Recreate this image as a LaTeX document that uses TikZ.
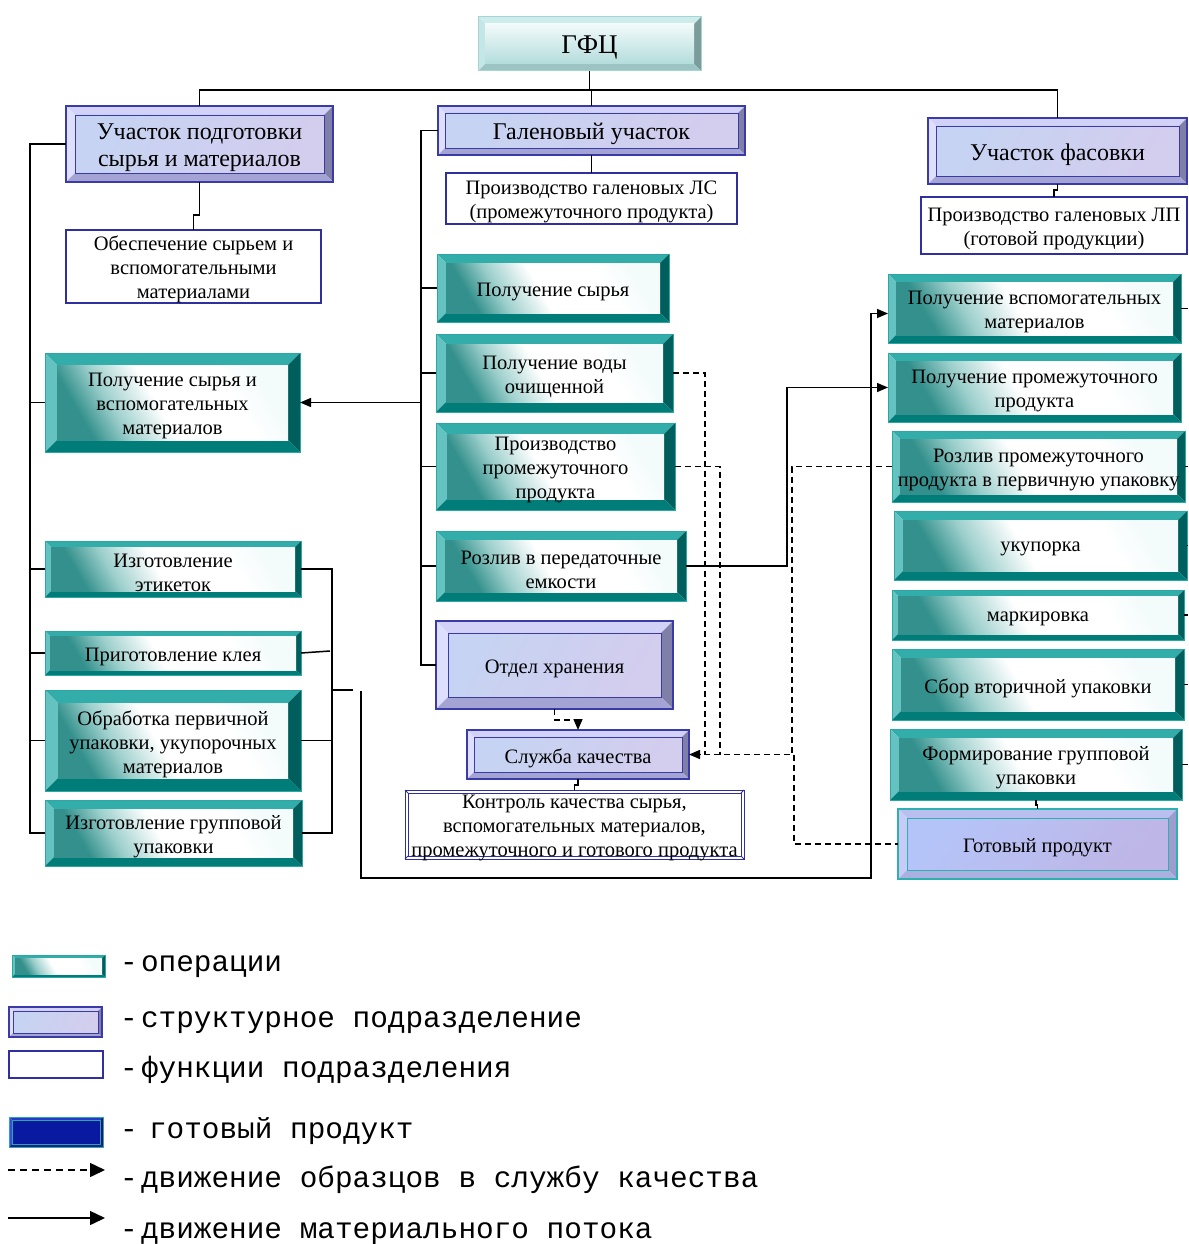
\documentclass[tikz,border=0pt]{standalone}
\usepackage{fontspec}
\setmainfont{Liberation Serif}
\newfontfamily\legfont{Liberation Mono}
\usetikzlibrary{arrows.meta,calc}

% operation boxes (teal bevel)
\definecolor{optop}{HTML}{32ADA9}
\definecolor{opleft}{HTML}{64C3C0}
\definecolor{opright}{HTML}{005F5D}
\definecolor{opbot}{HTML}{007C79}
\definecolor{opdk}{HTML}{33908C}
\definecolor{opmd}{HTML}{9CCFCC}
\definecolor{oplt}{HTML}{F4FBFB}
\definecolor{opln}{HTML}{2BA8A5}
% structural units (lavender bevel)
\definecolor{sttop}{HTML}{D2D2F8}
\definecolor{stleft}{HTML}{DEDEFD}
\definecolor{stright}{HTML}{7F7FA8}
\definecolor{stbot}{HTML}{A3A3D4}
\definecolor{stA}{HTML}{C6D3F2}
\definecolor{stB}{HTML}{D3CDEE}
\definecolor{stln}{HTML}{3A3AA8}
% ready product
\definecolor{gptop}{HTML}{B9C0F0}
\definecolor{gpleft}{HTML}{C6CCF6}
\definecolor{gpright}{HTML}{9C9CCF}
\definecolor{gpbot}{HTML}{AAB0E0}
\definecolor{gpA}{HTML}{B5C4F8}
\definecolor{gpB}{HTML}{BEB6E6}
\definecolor{gpln}{HTML}{2FB0B0}
% top box
\definecolor{gftop}{HTML}{CDECEC}
\definecolor{gfleft}{HTML}{C5E6E6}
\definecolor{gfright}{HTML}{7C9C9C}
\definecolor{gfbot}{HTML}{9CC4C4}
\definecolor{gfA}{HTML}{F2FAFA}
\definecolor{gfB}{HTML}{B4DCDC}
\definecolor{gfln}{HTML}{A6D3D3}
% legend dark blue
\definecolor{gdtop}{HTML}{2838C8}
\definecolor{gdleft}{HTML}{3A4AE0}
\definecolor{gdright}{HTML}{0A1480}
\definecolor{gdbot}{HTML}{101C90}
\definecolor{gdA}{HTML}{0A1AA0}
\definecolor{gdB}{HTML}{2C50F0}
% function boxes
\definecolor{fnln}{HTML}{2F2FA0}

\pgfdeclarehorizontalshading{opsh}{100bp}{color(0bp)=(opdk); color(25bp)=(opdk); color(34bp)=(opmd); color(46bp)=(white); color(66bp)=(white); color(75bp)=(oplt); color(100bp)=(oplt)}

% #1 style prefix, #2 name, #3-#6 corners, #7 bevel width, #8 text options, #9 text
\newcommand\bevbox[9]{%
  \path[fill=#1top] (#3,#4) -- (#5,#4) -- ({#5-#7},{#4+#7}) -- ({#3+#7},{#4+#7}) -- cycle;
  \path[fill=#1left] (#3,#4) -- ({#3+#7},{#4+#7}) -- ({#3+#7},{#6-#7}) -- (#3,#6) -- cycle;
  \path[fill=#1right] (#5,#4) -- (#5,#6) -- ({#5-#7},{#6-#7}) -- ({#5-#7},{#4+#7}) -- cycle;
  \path[fill=#1bot] (#3,#6) -- (#5,#6) -- ({#5-#7},{#6-#7}) -- ({#3+#7},{#6-#7}) -- cycle;
  \path[#1face] ({#3+#7},{#4+#7}) rectangle ({#5-#7},{#6-#7});
  \path[#1inner] ({#3+#7},{#4+#7}) rectangle ({#5-#7},{#6-#7});
  \path[#1line] (#3,#4) rectangle (#5,#6);
  \node[boxgeom,minimum width={#5-#3},minimum height={#6-#4}] (#2) at ({(#3+#5)/2},{(#4+#6)/2}) {};
  \node[boxtext,#8] (#2t) at ($(#2.center)+(0,3.5)$) {#9};
}

\tikzset{
  boxgeom/.style={inner sep=0pt, outer sep=0pt},
  boxtext/.style={inner sep=0pt, outer sep=0pt, align=center, font=\fontsize{20.5}{24}\selectfont},
  hdr/.style={font=\fontsize{24}{27}\selectfont},
  opface/.style={shade, shading=opsh, shading angle=30},
  opinner/.style={},
  opline/.style={draw=opln, line width=1pt},
  stface/.style={left color=stA, right color=stB, shading angle=60},
  stinner/.style={draw=stln, line width=0.8pt},
  stline/.style={draw=stln, line width=1.2pt},
  gpface/.style={left color=gpA, right color=gpB, shading angle=50},
  gpinner/.style={draw=gpln, line width=0.8pt},
  gpline/.style={draw=gpln, line width=1.2pt},
  gfface/.style={top color=gfA, bottom color=gfB},
  gfinner/.style={},
  gfline/.style={draw=gfln, line width=1pt},
  gdface/.style={left color=gdA, middle color=gdB, right color=gdA, shading angle=45},
  gdinner/.style={draw=opln, line width=0.6pt},
  gdline/.style={draw=opln, line width=1pt},
  fnbox/.style={boxgeom, draw=fnln, line width=1.6pt, fill=white},
  kin/.style={draw=fnln, line width=0.9pt},
  conn/.style={draw=black, line width=1.5pt},
  dsh/.style={conn, dash pattern=on 6pt off 4pt},
  legtxt/.style={inner sep=0pt, outer sep=0pt, font=\legfont\fontsize{29.4}{32}\selectfont},
  >={Triangle[length=11pt,width=9pt]},
}

\begin{document}
\begin{tikzpicture}[x=1pt,y=-1pt]
\fill[white] (0,0) rectangle (1188,1244);
\useasboundingbox (0,0) rectangle (1188,1244);

% ---------- top level ----------
\bevbox{gf}{gfc}{478}{17}{701}{71}{7}{font=\fontsize{27}{30}\selectfont}{ГФЦ}
\bevbox{st}{ucp}{66}{106}{333}{182}{9}{hdr}{Участок подготовки\\сырья и материалов}
\bevbox{st}{gal}{438}{106}{745}{155}{7}{hdr}{Галеновый участок}
\bevbox{st}{uf}{928}{118}{1187}{184}{8}{hdr}{Участок фасовки}

% ---------- function boxes ----------
\node[fnbox, minimum width=255, minimum height=73] (obesp) at (193.5,266.5) {};
\node[boxtext] (obespt) at ($(obesp.center)+(0,3)$) {Обеспечение сырьем и\\вспомогательными\\материалами};
\node[fnbox, minimum width=291, minimum height=51] (pls) at (591.5,198.5) {};
\node[boxtext] (plst) at ($(pls.center)+(0,3)$) {Производство галеновых ЛС\\(промежуточного продукта)};
\node[fnbox, minimum width=266, minimum height=57] (plp) at (1054,225.5) {};
\node[boxtext] (plpt) at ($(plp.center)+(0,3)$) {Производство галеновых ЛП\\(готовой продукции)};

% ---------- central column ----------
\bevbox{op}{polsyr}{437}{254}{669}{322}{9}{}{Получение сырья}
\bevbox{op}{vody}{436}{334}{673}{412}{10}{}{Получение воды\\очищенной}
\bevbox{op}{proizv}{436}{423}{675}{510}{11}{}{Производство\\промежуточного\\продукта}
\bevbox{op}{rozliv}{436}{531}{686}{601}{9}{}{Розлив в передаточные\\емкости}
\bevbox{st}{otd}{436}{621}{673}{709}{12}{}{Отдел хранения}
\bevbox{st}{sk}{467}{730}{689}{779}{7}{}{Служба качества}
\node[fnbox, line width=0.9pt, minimum width=339, minimum height=69] (kontrol) at (574.5,824.5) {};
\draw[kin] ($(kontrol.north west)+(3,3)$) rectangle ($(kontrol.south east)+(-3,-3)$);
\draw[kin] (kontrol.north west) -- ++(3,3);
\draw[kin] (kontrol.north east) -- ++(-3,3);
\draw[kin] (kontrol.south west) -- ++(3,-3);
\draw[kin] (kontrol.south east) -- ++(-3,-3);
\node[boxtext] (kontrolt) at ($(kontrol.center)+(0,3.5)$) {Контроль качества сырья,\\вспомогательных материалов,\\промежуточного и готового продукта};

% ---------- left column ----------
\bevbox{op}{psv}{45}{353}{300}{452}{12}{}{Получение сырья и\\вспомогательных\\материалов}
\bevbox{op}{etik}{45}{541}{301}{597}{6}{}{Изготовление\\этикеток}
\bevbox{op}{klei}{45}{631}{301}{675}{5}{}{Приготовление клея}
\bevbox{op}{obr}{45}{690}{301}{791}{13}{}{Обработка первичной\\упаковки, укупорочных\\материалов}
\bevbox{op}{izgr}{45}{800}{302}{866}{9}{}{Изготовление групповой\\упаковки}

% ---------- right column ----------
\bevbox{op}{pvm}{888}{274}{1181}{343}{8}{}{Получение вспомогательных\\материалов}
\bevbox{op}{ppp}{888}{353}{1181}{422}{8}{}{Получение промежуточного\\продукта}
\bevbox{op}{rpu}{892}{431}{1185}{502}{8}{}{Розлив промежуточного\\продукта в первичную упаковку}
\bevbox{op}{ukup}{894}{511}{1187}{580}{9}{}{укупорка}
\bevbox{op}{mark}{892}{590}{1184}{640}{6}{}{маркировка}
\bevbox{op}{sbor}{892}{649}{1184}{720}{9}{}{Сбор вторичной упаковки}
\bevbox{op}{fgu}{890}{729}{1182}{800}{9}{}{Формирование групповой\\упаковки}
\bevbox{gp}{gp}{898}{809}{1177}{879}{9}{}{Готовый продукт}

% ---------- connectors: hierarchy ----------
\coordinate (tj) at (591,90);
\draw[conn] (gfc.south) -- (gfc.south |- tj);
\draw[conn] (ucp.north) |- (uf.north |- tj) -- (uf.north);
\draw[conn] (gal.north |- tj) -- (gal.north);
\draw[conn] (gal.south) -- (pls.north);
\draw[conn] (ucp.south) -- ++(0,33) -| (obesp.north);
\draw[conn] (uf.south) -- ++(0,6) -| (plp.north);
\draw[conn] (sk.south) -- ++(0,6) -| (kontrol.north);
\draw[conn] (fgu.south) -- ++(0,5) -| (gp.north);

% left trunk
\coordinate (ltr) at (30,143);
\draw[conn] (ucp.west) -- (ucp.west -| ltr) -- (ltr |- izgr.west) -- (izgr.west);
\foreach \n in {psv,etik,klei,obr} \draw[conn] (ltr |- \n.west) -- (\n.west);

% galenic trunk
\coordinate (gtr) at (421,130);
\draw[conn] (gal.west) -- (gal.west -| gtr) -- (gtr |- otd.west) -- (otd.west);
\foreach \n in {polsyr,vody,proizv,rozliv} \draw[conn] (gtr |- \n.west) -- (\n.west);
\draw[conn,->] (gtr |- psv.east) -- (psv.east);

% right bracket of the left column
\coordinate (rbr) at (332,569);
\draw[conn] (etik.east) -- (etik.east -| rbr) -- (rbr |- izgr.east) -- (izgr.east);
\draw[conn] (klei.east) -- ($(klei.east -| rbr)+(-2,-2)$);
\draw[conn] (obr.east) -- (obr.east -| rbr);
\coordinate (rbo) at (353,690);
\draw[conn] (rbo -| rbr) -- (rbo);
\coordinate (mfs) at (361,691);
\coordinate (mfb) at (871,878);
\coordinate (pvmin) at ($(pvm.west)+(0,5)$);
\draw[conn,->] (mfs) |- (mfb) -- (mfb |- pvmin) -- (pvmin);

% filling to packaging
\coordinate (rj) at (787,566);
\draw[conn,->] (rozliv.east) -- (rozliv.east -| rj) |- (ppp.west);

% samples to quality service
\coordinate (d1) at (705,373);
\coordinate (d2) at (720,466);
\coordinate (d3) at (792,466);
\draw[dsh] (vody.east) -- (vody.east -| d1) -- (d1 |- sk.east);
\draw[dsh] (proizv.east) -- (proizv.east -| d2) -- (d2 |- sk.east);
\draw[dsh,->] (rpu.west) -- (rpu.west -| d3) -- (d3 |- sk.east) -- (sk.east);
\draw[dsh,line width=1.2pt] ($(d3 |- sk.east)+(2,0)$) |- (gp.west);
\draw[dsh,->] (otd.south) -- ++(0,11) -| (sk.north);

% stubs at the right edge
\coordinate (redge) at (1188,0);
\foreach \n in {pvm,rpu,ukup,mark,sbor,fgu} \draw[conn,line width=1.2pt] (\n.east) -- (\n.east -| redge);

% ---------- legend ----------
\bevbox{op}{lgop}{12}{955}{105}{977}{3}{}{}
\bevbox{st}{lgst}{9}{1007}{102}{1037}{4}{}{}
\node[fnbox, minimum width=94, minimum height=27] (lgfn) at (56,1064.5) {};
\bevbox{gd}{lggd}{9}{1117}{103}{1147}{3}{}{}
\coordinate (la1) at (8,1170);
\coordinate (la2) at (105,1170);
\draw[conn, dash pattern=on 7pt off 5pt, -{Triangle[length=15pt,width=14pt]}] (la1) -- (la2);
\coordinate (lb1) at (8,1218);
\coordinate (lb2) at (105,1218);
\draw[conn, -{Triangle[length=15pt,width=14pt]}] (lb1) -- (lb2);

\node[legtxt, anchor=base] (lh1) at (129,971) {-};
\node[legtxt, anchor=base west] (lt1) at (141,971) {операции};
\node[legtxt, anchor=base] (lh2) at (129,1027) {-};
\node[legtxt, anchor=base west] (lt2) at (141,1027) {структурное подразделение};
\node[legtxt, anchor=base] (lh3) at (129,1077) {-};
\node[legtxt, anchor=base west] (lt3) at (141,1077) {функции подразделения};
\node[legtxt, anchor=base] (lh4) at (129,1138) {-};
\node[legtxt, anchor=base west] (lt4) at (149,1138) {готовый продукт};
\node[legtxt, anchor=base] (lh5) at (129,1187) {-};
\node[legtxt, anchor=base west] (lt5) at (141,1187) {движение образцов в службу качества};
\node[legtxt, anchor=base] (lh6) at (129,1238) {-};
\node[legtxt, anchor=base west] (lt6) at (141,1238) {движение материального потока};
\end{tikzpicture}
\end{document}
